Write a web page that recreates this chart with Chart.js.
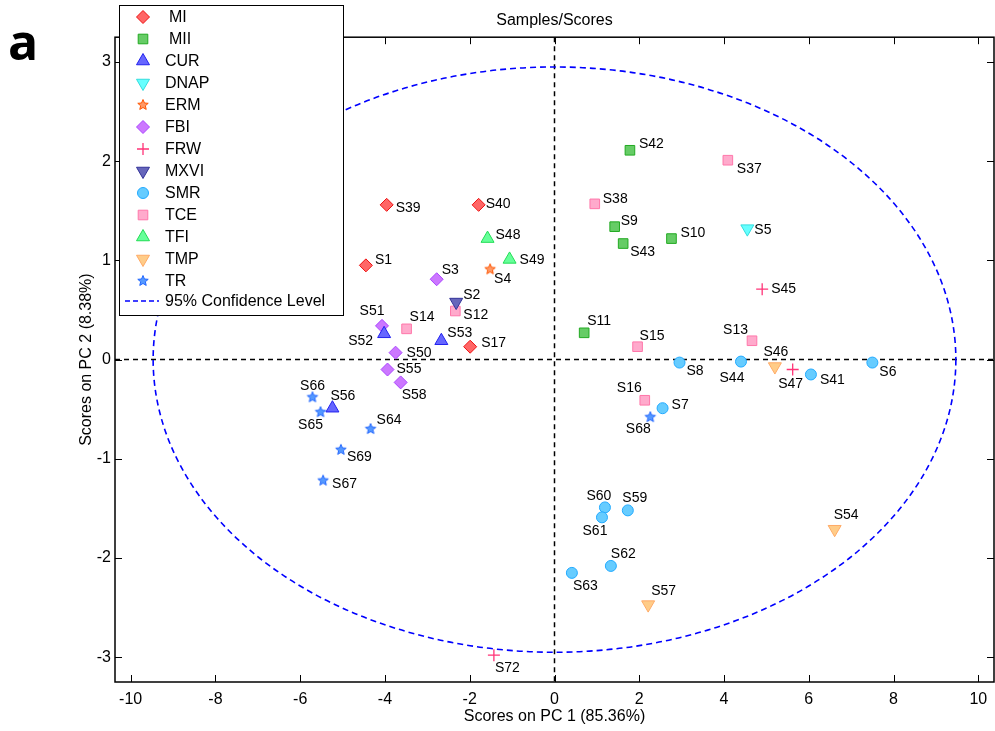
<!DOCTYPE html>
<html>
<head>
<meta charset="utf-8">
<script src="https://cdn.jsdelivr.net/npm/chart.js@4.4.0/dist/chart.umd.min.js"></script>
<style>
  html, body { margin: 0; padding: 0; background: #fff; overflow: hidden; }
</style>
</head>
<body>
<canvas id="myChart" width="995" height="731"></canvas>
<script>
// samples
var sampleNames  = ['S39','S40','S1','S17',
                    'S42','S9','S43','S10','S11',
                    'S52','S53','S56',
                    'S5',
                    'S4',
                    'S3','S51','S50','S55','S58',
                    'S45','S47','S72',
                    'S2',
                    'S8','S44','S41','S6','S7','S60','S61','S59','S62','S63',
                    'S37','S38','S12','S14','S15','S13','S16',
                    'S48','S49',
                    'S46','S57','S54',
                    'S66','S65','S64','S69','S67','S68'];
var sampleGroups = ['MI','MI','MI','MI',
                    'MII','MII','MII','MII','MII',
                    'CUR','CUR','CUR',
                    'DNAP',
                    'ERM',
                    'FBI','FBI','FBI','FBI','FBI',
                    'FRW','FRW','FRW',
                    'MXVI',
                    'SMR','SMR','SMR','SMR','SMR','SMR','SMR','SMR','SMR','SMR',
                    'TCE','TCE','TCE','TCE','TCE','TCE','TCE',
                    'TFI','TFI',
                    'TMP','TMP','TMP',
                    'TR','TR','TR','TR','TR','TR'];
var pc1 = [-3.96,-1.79,-4.45,-1.99,
           1.78,1.42,1.62,2.76,0.70,
           -4.02,-2.67,-5.24,
           4.55,
           -1.52,
           -2.78,-4.07,-3.75,-3.94,-3.63,
           4.90,5.62,-1.43,
           -2.32,
           2.95,4.40,6.05,7.50,2.55,1.19,1.12,1.73,1.33,0.41,
           4.09,0.95,-2.34,-3.49,1.96,4.66,2.13,
           -1.58,-1.06,
           5.20,2.21,6.61,
           -5.71,-5.52,-4.34,-5.04,-5.46,2.26];
var pc2 = [1.56,1.56,0.95,0.13,
           2.11,1.34,1.17,1.22,0.27,
           0.26,0.19,-0.49,
           1.32,
           0.91,
           0.81,0.34,0.07,-0.10,-0.23,
           0.71,-0.10,-2.98,
           0.58,
           -0.03,-0.02,-0.15,-0.03,-0.49,-1.49,-1.59,-1.52,-2.08,-2.15,
           2.01,1.57,0.49,0.31,0.13,0.19,-0.41,
           1.22,1.01,
           -0.07,-2.47,-1.71,
           -0.38,-0.53,-0.70,-0.91,-1.22,-0.58];

var groups = ['MI','MII','CUR','DNAP','ERM','FBI','FRW','MXVI','SMR','TCE','TFI','TMP','TR'];
var xTicks = [-10,-8,-6,-4,-2,0,2,4,6,8,10];
var yTicks = [-3,-2,-1,0,1,2,3];
var ellipseA = 9.47, ellipseB = 2.95; // 95% confidence limits on PC1 / PC2

// marker look per group
function starImage(fill, edge, R) {
  var c = document.createElement('canvas');
  c.width = c.height = Math.ceil(R * 2 + 3);
  var g = c.getContext('2d');
  var cx = c.width / 2, cy = c.height / 2;
  g.beginPath();
  for (var i = 0; i < 10; i++) {
    var a = -Math.PI / 2 + i * Math.PI / 5;
    var rr = (i % 2) ? R * 0.45 : R;
    if (i == 0) g.moveTo(cx + rr * Math.cos(a), cy + rr * Math.sin(a));
    else g.lineTo(cx + rr * Math.cos(a), cy + rr * Math.sin(a));
  }
  g.closePath();
  g.fillStyle = fill; g.fill();
  g.lineWidth = 1; g.strokeStyle = edge; g.stroke();
  return c;
}

var groupStyle = {
  MI:   { shape: 'rectRot',  rot: 0,   r: 6.5, fill: '#ff6666', edge: '#ee1111' },
  MII:  { shape: 'rect',     rot: 0,   r: 6.8, fill: '#66cc66', edge: '#22aa22' },
  CUR:  { shape: 'triangle', rot: 0,   r: 7.5, fill: '#6666ff', edge: '#2222ee' },
  DNAP: { shape: 'triangle', rot: 180, r: 7.5, fill: '#66ffff', edge: '#33dddd' },
  ERM:  { shape: starImage('#ff9966', '#ff5500', 5.5), rot: 0, r: 5, fill: '#ff9966', edge: '#ff5500' },
  FBI:  { shape: 'rectRot',  rot: 0,   r: 6.5, fill: '#cc77ff', edge: '#aa44ff' },
  FRW:  { shape: 'cross',    rot: 0,   r: 6,   fill: '#ff3377', edge: '#ff3377' },
  MXVI: { shape: 'triangle', rot: 180, r: 7.5, fill: '#6666bb', edge: '#333399' },
  SMR:  { shape: 'circle',   rot: 0,   r: 5.5, fill: '#66ccff', edge: '#22aaff' },
  TCE:  { shape: 'rect',     rot: 0,   r: 6.8, fill: '#ffaacc', edge: '#ff77aa' },
  TFI:  { shape: 'triangle', rot: 0,   r: 7.5, fill: '#66ff99', edge: '#22dd55' },
  TMP:  { shape: 'triangle', rot: 180, r: 7.5, fill: '#ffcc88', edge: '#ffaa66' },
  TR:   { shape: starImage('#5599ff', '#2266ff', 5.5), rot: 0, r: 5, fill: '#5599ff', edge: '#2266ff' }
};

// where each sample name sits next to its marker: [dx, dy, align]
var labelPlace = {
  S39:[9,3,'left'], S40:[7,-1,'left'], S48:[8,-3,'left'], S49:[10,1,'left'],
  S1:[9,-5,'left'], S4:[4,10,'left'], S3:[5,-9,'left'], S2:[7,-7,'left'],
  S12:[8,4,'left'], S51:[-10,-15,'center'], S14:[3,-12,'left'], S52:[-11,7,'right'],
  S53:[6,-8,'left'], S17:[11,-4,'left'], S50:[11,0,'left'], S55:[9,0,'left'],
  S58:[1,13,'left'], S66:[0,-11,'center'], S56:[-2,-12,'left'], S65:[-10,13,'center'],
  S64:[6,-9,'left'], S69:[6,7,'left'], S67:[9,4,'left'], S42:[9,-6,'left'],
  S37:[9,9,'left'], S38:[8,-5,'left'], S9:[6,-6,'left'], S43:[7,9,'left'],
  S10:[9,-5,'left'], S5:[7,1,'left'], S45:[9,0,'left'], S11:[3,-12,'left'],
  S15:[2,-11,'left'], S13:[-4,-11,'right'], S8:[7,9,'left'], S44:[-9,17,'center'],
  S46:[1,-14,'center'], S47:[-2,15,'center'], S41:[9,6,'left'], S6:[7,10,'left'],
  S16:[-3,-12,'right'], S7:[9,-3,'left'], S68:[-12,12,'center'], S60:[-6,-11,'center'],
  S59:[7,-12,'center'], S61:[-7,14,'center'], S62:[0,-12,'left'], S63:[1,13,'left'],
  S57:[3,-13,'left'], S54:[-1,-14,'left'], S72:[1,13,'left']
};

var FONT = "'Liberation Sans', Arial, sans-serif";

var datasets = groups.map(function (gname) {
  var st = groupStyle[gname];
  var pts = [];
  for (var i = 0; i < sampleNames.length; i++) {
    if (sampleGroups[i] == gname) pts.push({ x: pc1[i], y: pc2[i], name: sampleNames[i] });
  }
  return {
    label: gname,
    data: pts,
    pointStyle: st.shape,
    rotation: st.rot,
    pointRadius: st.r,
    pointHoverRadius: st.r,
    backgroundColor: st.fill,
    borderColor: st.edge,
    borderWidth: gname == 'FRW' ? 1.3 : 1
  };
});

var matlabLook = {
  id: 'matlabLook',
  beforeDatasetsDraw: function (chart) {
    var ctx = chart.ctx, a = chart.chartArea;
    var xs = chart.scales.x, ys = chart.scales.y;
    var x0 = xs.getPixelForValue(0), y0 = ys.getPixelForValue(0);
    ctx.save();
    ctx.beginPath(); ctx.rect(a.left, a.top, a.right - a.left, a.bottom - a.top); ctx.clip();
    // zero lines
    ctx.strokeStyle = '#000'; ctx.lineWidth = 1.5; ctx.setLineDash([5, 4]);
    ctx.beginPath(); ctx.moveTo(x0, a.top); ctx.lineTo(x0, a.bottom); ctx.stroke();
    ctx.beginPath(); ctx.moveTo(a.left, y0); ctx.lineTo(a.right, y0); ctx.stroke();
    // confidence ellipse
    var rx = xs.getPixelForValue(ellipseA) - x0;
    var ry = y0 - ys.getPixelForValue(ellipseB);
    ctx.strokeStyle = '#0000ff'; ctx.lineWidth = 1.6; ctx.setLineDash([6, 4]);
    ctx.beginPath(); ctx.ellipse(x0, y0, rx, ry, 0, 0, Math.PI * 2); ctx.stroke();
    ctx.restore();
  },
  afterDatasetsDraw: function (chart) {
    var ctx = chart.ctx;
    ctx.save();
    ctx.font = '14px ' + FONT;
    ctx.fillStyle = '#000';
    ctx.textBaseline = 'middle';
    chart.data.datasets.forEach(function (ds, di) {
      var meta = chart.getDatasetMeta(di);
      meta.data.forEach(function (el, i) {
        var name = ds.data[i].name;
        var p = labelPlace[name] || [8, 0, 'left'];
        ctx.textAlign = p[2];
        ctx.fillText(name, el.x + p[0], el.y + p[1]);
      });
    });
    ctx.restore();
  },
  afterDraw: function (chart) {
    var ctx = chart.ctx, a = chart.chartArea;
    var xs = chart.scales.x, ys = chart.scales.y;
    ctx.save();
    // frame + inward ticks on all four sides
    ctx.strokeStyle = '#000'; ctx.lineWidth = 1.5; ctx.setLineDash([]);
    ctx.strokeRect(a.left, a.top, a.right - a.left, a.bottom - a.top);
    ctx.lineWidth = 1;
    var tl = 7;
    ctx.beginPath();
    xTicks.forEach(function (v) {
      var px = Math.round(xs.getPixelForValue(v)) + 0.5;
      ctx.moveTo(px, a.bottom); ctx.lineTo(px, a.bottom - tl);
      ctx.moveTo(px, a.top); ctx.lineTo(px, a.top + tl);
    });
    yTicks.forEach(function (v) {
      var py = Math.round(ys.getPixelForValue(v)) + 0.5;
      ctx.moveTo(a.left, py); ctx.lineTo(a.left + tl, py);
      ctx.moveTo(a.right, py); ctx.lineTo(a.right - tl, py);
    });
    ctx.stroke();

    // legend box
    var lx = 119, ly = 5, lw = 224, lh = 310;
    ctx.fillStyle = '#fff';
    ctx.fillRect(lx, ly, lw, lh);
    ctx.strokeStyle = '#000'; ctx.lineWidth = 1;
    ctx.strokeRect(lx + 0.5, ly + 0.5, lw, lh);
    ctx.font = '16px ' + FONT;
    ctx.textAlign = 'left'; ctx.textBaseline = 'middle';
    groups.forEach(function (gname, k) {
      var st = groupStyle[gname];
      var yy = 17 + k * 22;
      ctx.fillStyle = st.fill; ctx.strokeStyle = st.edge;
      ctx.lineWidth = gname == 'FRW' ? 1.3 : 1;
      Chart.helpers.drawPoint(ctx, { pointStyle: st.shape, rotation: st.rot, radius: st.r, borderWidth: 1 }, 143, yy);
      ctx.fillStyle = '#000';
      ctx.fillText(gname, (k < 2 ? 169 : 165), yy + 1);
    });
    var cy = 17 + 13 * 22 - 2;
    ctx.strokeStyle = '#0000ff'; ctx.lineWidth = 1.6; ctx.setLineDash([5, 3]);
    ctx.beginPath(); ctx.moveTo(125, cy); ctx.lineTo(159, cy); ctx.stroke();
    ctx.setLineDash([]);
    ctx.fillStyle = '#000';
    ctx.fillText('95% Confidence Level', 165, cy + 1);

    // panel letter
    ctx.font = "bold 50px 'Open Sans', 'Liberation Sans', sans-serif";
    ctx.textBaseline = 'alphabetic';
    ctx.fillText('a', 8, 60);
    ctx.restore();
  }
};

function noEdgePadding(s) {
  s.paddingLeft = 0; s.paddingRight = 0; s.paddingTop = 0; s.paddingBottom = 0;
}

var chart = new Chart(document.getElementById('myChart').getContext('2d'), {
  type: 'scatter',
  data: { datasets: datasets },
  options: {
    responsive: false,
    animation: false,
    events: [],
    layout: { autoPadding: false, padding: { left: 70, top: 0, right: 1, bottom: 0 } },
    plugins: {
      legend: { display: false },
      tooltip: { enabled: false },
      title: {
        display: true,
        text: 'Samples/Scores',
        fullSize: false,
        color: '#000',
        font: { family: FONT, size: 16, weight: 'normal' },
        padding: { top: 11, bottom: 7 }
      }
    },
    scales: {
      x: {
        type: 'linear',
        position: 'bottom',
        min: -10.37, max: 10.37,
        afterBuildTicks: function (s) { s.ticks = xTicks.map(function (v) { return { value: v }; }); },
        afterFit: function (s) { s.height = 49; noEdgePadding(s); },
        grid: { display: false, drawTicks: false },
        border: { display: false },
        ticks: { color: '#000', font: { family: FONT, size: 16 }, padding: 8, maxRotation: 0 },
        title: { display: true, text: 'Scores on PC 1 (85.36%)', color: '#000',
                 font: { family: FONT, size: 16 }, padding: { top: 0, bottom: 5 } }
      },
      y: {
        type: 'linear',
        min: -3.25, max: 3.25,
        afterBuildTicks: function (s) { s.ticks = yTicks.map(function (v) { return { value: v }; }); },
        afterFit: function (s) { s.width = 45; noEdgePadding(s); },
        grid: { display: false, drawTicks: false },
        border: { display: false },
        ticks: { color: '#000', font: { family: FONT, size: 16 }, padding: 4 },
        title: { display: true, text: 'Scores on PC 2 (8.38%)', color: '#000',
                 font: { family: FONT, size: 16 }, padding: { top: 7, bottom: 0 } }
      }
    }
  },
  plugins: [matlabLook]
});
</script>
</body>
</html>
